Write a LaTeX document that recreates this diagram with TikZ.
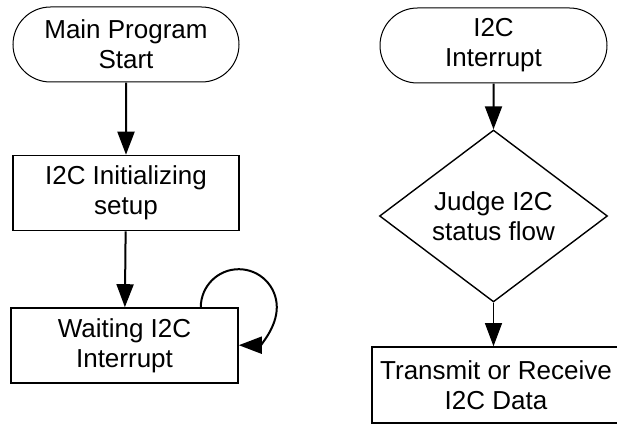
\documentclass[tikz,border=0pt]{standalone}
\usepackage{fontspec}
\setmainfont{Liberation Sans}
\usetikzlibrary{arrows.meta,shapes.geometric,shapes.misc}

\tikzset{
  term/.style={rounded rectangle, draw, line width=0.5pt, align=center, minimum width=113pt, minimum height=37.5pt, inner sep=0pt},
  proc/.style={rectangle, draw, line width=0.8pt, align=center, minimum height=37.5pt, inner sep=0pt},
  judgebox/.style={diamond, draw, line width=0.7pt, align=center, minimum width=114pt, minimum height=56pt, inner sep=0pt},
  arr/.style={line width=1pt, -{Triangle[length=11.5pt,width=8.5pt]}}
}

\begin{document}
\begin{tikzpicture}[x=0.5pt,y=0.5pt,font=\fontsize{13}{15}\selectfont]
\useasboundingbox (0,0) rectangle (617,424);
%\draw[help lines,step=50] (0,0) grid (617,424);
\node[term] (start) at (126,379.5) {Main Program\\Start};
\node[proc, minimum width=113pt] (init) at (126,231) {I2C Initializing\\setup};
\node[proc, minimum width=113.5pt] (wait) at (124.5,78.5) {Waiting I2C\\Interrupt};
\node[term, minimum width=113.5pt] (irq) at (493.5,378.5) {I2C\\Interrupt};
\node[judgebox] (judge) at (493.5,208) {Judge I2C\\status flow};
\node[proc, minimum width=124pt, minimum height=38pt] (data) at (496,39) {Transmit or Receive\\I2C Data};
\draw[arr] (start) -- (init);
\draw[arr] (init) -- (wait);
\draw[arr] ([xshift=-19pt]wait.north east) arc[start angle=180, end angle=-90, radius=38];
\draw[arr] (irq) -- (judge);
\draw[arr, line width=0.5pt] (judge) -- (judge |- data.north);
\end{tikzpicture}
\end{document}
